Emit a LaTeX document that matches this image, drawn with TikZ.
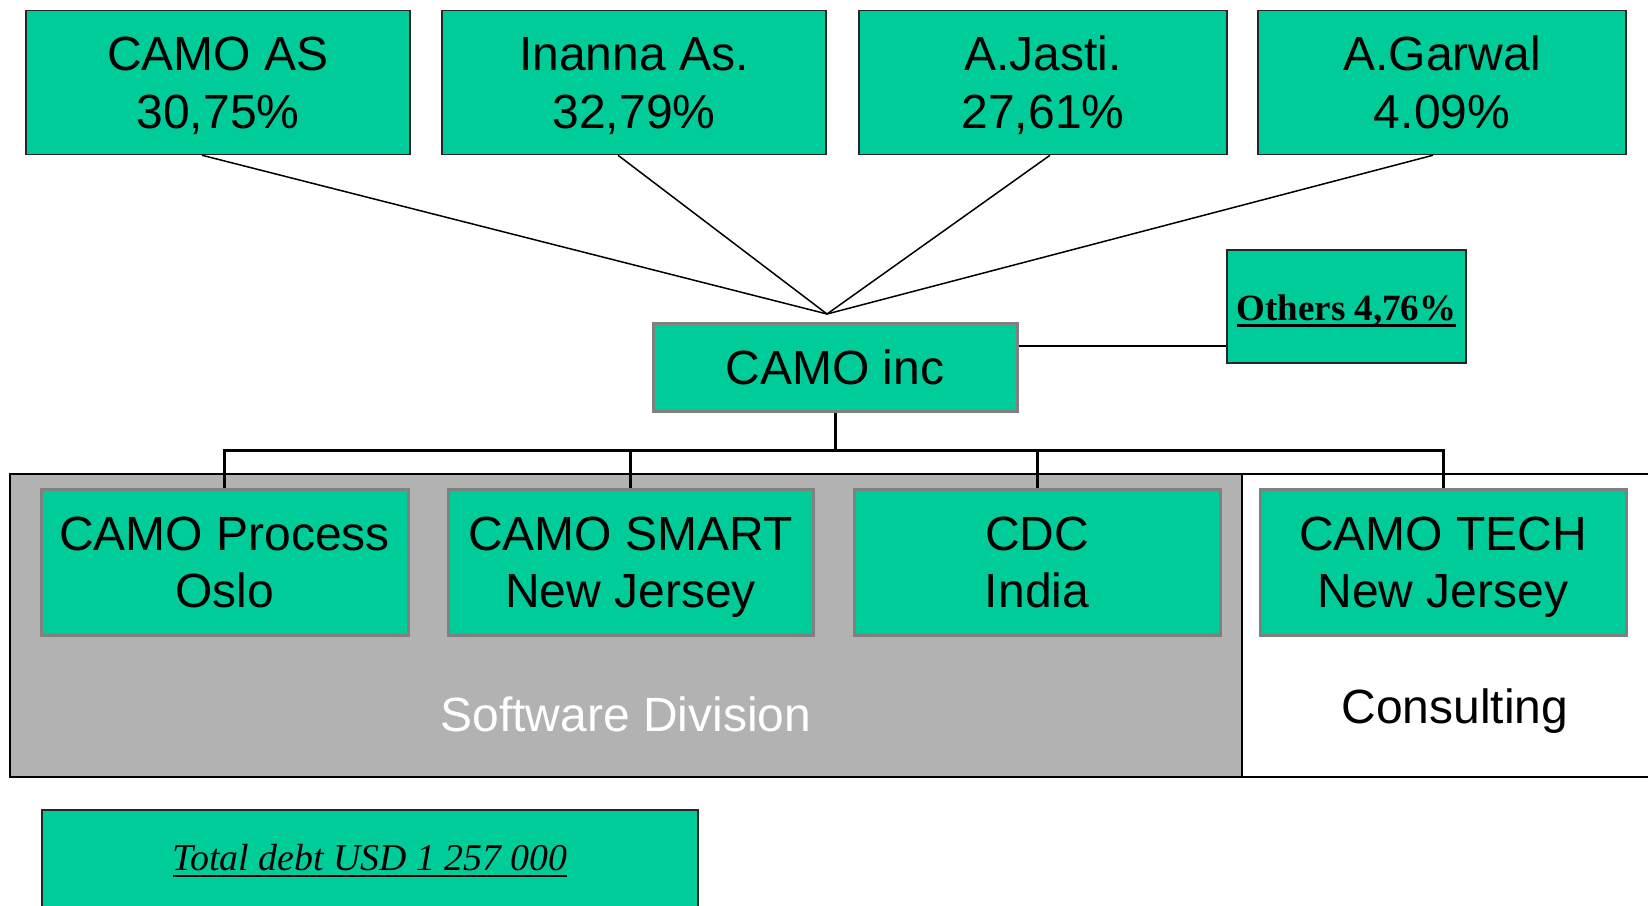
\documentclass[tikz,border=0pt]{standalone}
\usepackage{fontspec}
\setmainfont{Liberation Sans}
\newfontfamily\serifface{Liberation Serif}
\definecolor{boxgreen}{RGB}{0,204,153}
\definecolor{divgray}{RGB}{178,178,178}
\definecolor{rimgray}{RGB}{128,128,128}
% underline with a heavier rule
\newcommand{\heavyline}[1]{\setbox0\hbox{#1}\dp0=0pt\vtop{\box0\kern4pt\hrule height 2.8pt}}
\begin{document}
\begin{tikzpicture}[x=1pt, y=-1pt,
    owner/.style={draw=black!85, line width=1.5pt, fill=boxgreen, inner sep=0pt, align=center, text depth=0pt, font=\fontsize{48}{58}\selectfont},
    unit/.style={draw=rimgray, line width=3pt, fill=boxgreen, inner sep=0pt, align=center, text depth=0pt, font=\fontsize{48}{57}\selectfont},
    note/.style={draw=black!85, line width=1.5pt, fill=boxgreen, inner sep=0pt},
    thin link/.style={line width=1.5pt},
    bus/.style={line width=3pt}]

    \useasboundingbox (0,0) rectangle (1648,905);

    % divisions
    \draw[fill=divgray, line width=1.5pt] (10,474) rectangle (1242,777);
    \draw[line width=1.5pt] (1660,474) -- (1242,474) -- (1242,777) -- (1660,777);
    \node[anchor=base, text=white, font=\fontsize{48}{56}\selectfont] (software) at (626,731) {Software Division};
    \node[anchor=base, font=\fontsize{48}{58}\selectfont] (consulting) at (1455,723) {Consulting};

    % owners
    \node[owner, minimum width=384pt, minimum height=144pt] (camoas) at (218,82.5) {CAMO AS\\30,75\%};
    \node[owner, minimum width=384pt, minimum height=144pt] (inanna) at (634,82.5) {Inanna As.\\32,79\%};
    \node[owner, minimum width=368pt, minimum height=144pt] (jasti) at (1043,82.5) {A.Jasti.\\27,61\%};
    \node[owner, minimum width=368pt, minimum height=144pt] (garwal) at (1442,82.5) {A.Garwal\\4.09\%};
    \node[note, minimum width=239pt, minimum height=113pt, text height=27pt, text depth=0pt, font=\serifface\bfseries\fontsize{37}{44}\selectfont] (others) at (1346.5,306.5) {\heavyline{Others 4,76\%}};

    % company and units
    \node[unit, minimum width=364pt, minimum height=88pt] (inc) at (835,367) {CAMO inc};
    \node[unit, minimum width=367pt, minimum height=146pt] (process) at (224.5,562) {CAMO Process\\Oslo};
    \node[unit, minimum width=365pt, minimum height=146pt] (smart) at (630.5,562) {CAMO SMART\\New Jersey};
    \node[unit, minimum width=366pt, minimum height=146pt] (cdc) at (1037,562) {CDC\\India};
    \node[unit, minimum width=366pt, minimum height=146pt] (tech) at (1443,562) {CAMO TECH\\New Jersey};

    \node[note, minimum width=656pt, minimum height=100pt, text height=25pt, text depth=4pt, font=\serifface\itshape\fontsize{37.8}{44}\selectfont] (debt) at (370,860) {\heavyline{Total debt USD 1 257 000}};

    % ownership lines
    \coordinate (meet) at (827,314);
    \draw[thin link] ([xshift=-16pt]camoas.south) -- (meet);
    \draw[thin link] ([xshift=-16pt]inanna.south) -- (meet);
    \draw[thin link] ([xshift=7pt]jasti.south) -- (meet);
    \draw[thin link] ([xshift=-9pt]garwal.south) -- (meet);
    \draw[thin link] ([yshift=21pt]inc.east) -- ([yshift=21pt]inc.east -| others.west);

    % bus to units
    \coordinate (busmid) at (835,450);
    \draw[bus] (inc.south) -- (busmid);
    \draw[bus] (process.north) -- (process.north |- busmid) -- (tech.north |- busmid) -- (tech.north);
    \foreach \sub in {smart, cdc}
        \draw[bus] (\sub.north) -- (\sub.north |- busmid);
\end{tikzpicture}
\end{document}
